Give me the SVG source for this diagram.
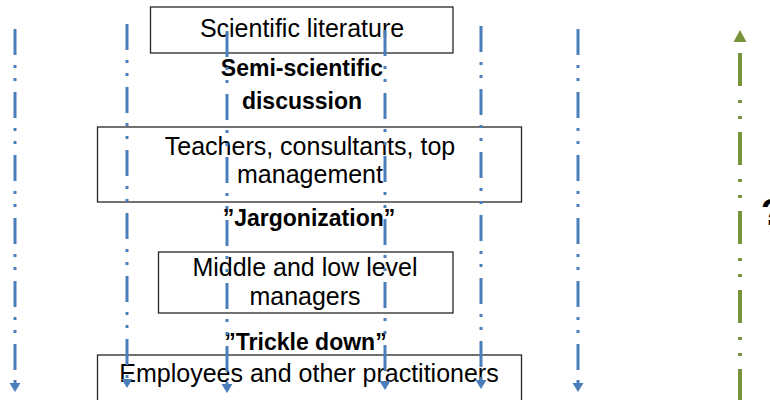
<svg xmlns="http://www.w3.org/2000/svg" width="770" height="400" viewBox="0 0 770 400">
  <style>
    .box { fill: #ffffff; stroke: #262626; stroke-width: 1.3; }
    .t { font-family: "Liberation Sans", Arial, sans-serif; font-size: 25px; fill: #000; text-anchor: middle; }
    .b { font-family: "Liberation Sans", Arial, sans-serif; font-size: 23px; font-weight: bold; fill: #000; text-anchor: middle; }
    .down { stroke: #4A7EBB; stroke-width: 3; fill: none; stroke-dasharray: 26 10 3 10 3 11; }
    .head-down { fill: #4A7EBB; }
    .up { stroke: #77933C; stroke-width: 4; fill: none; stroke-dasharray: 33 13 3 13 3 14; }
    .head-up { fill: #77933C; }
  </style>
  <defs>
    <!-- downward arrowhead, tip at the origin -->
    <path id="tipDown" class="head-down" d="M-5.5,-9 L5.5,-9 L0,0 Z"/>
  </defs>

  <!-- levels -->
  <g id="scientific-literature">
    <rect class="box" x="150.5" y="7" width="302.5" height="46"/>
    <text class="t" x="302" y="37">Scientific literature</text>
  </g>
  <g id="semi-scientific-discussion">
    <text class="b" x="302" y="76">Semi-scientific</text>
    <text class="b" x="302" y="109">discussion</text>
  </g>
  <g id="teachers-consultants">
    <rect class="box" x="97.5" y="127" width="424" height="75"/>
    <text class="t" x="310" y="155">Teachers, consultants, top</text>
    <text class="t" x="310" y="183">management</text>
  </g>
  <g id="jargonization">
    <text class="b" x="309" y="226">”Jargonization”</text>
  </g>
  <g id="middle-low-managers">
    <rect class="box" x="158.5" y="252" width="294.5" height="61"/>
    <text class="t" x="305" y="276">Middle and low level</text>
    <text class="t" x="305" y="305">managers</text>
  </g>
  <g id="trickle-down">
    <text class="b" x="305.5" y="350">”Trickle down”</text>
  </g>
  <g id="employees">
    <rect class="box" x="97.5" y="355" width="424" height="60"/>
    <text class="t" x="309" y="382">Employees and other practitioners</text>
  </g>
  <g id="question">
    <text class="b" x="761" y="225" style="font-size:36px;text-anchor:start">?</text>
  </g>

  <!-- flow lines -->
  <g id="connectors">
    <line class="down" x1="15" y1="29" x2="15" y2="384"/>
    <line class="down" x1="127" y1="24" x2="127" y2="380"/>
    <line class="down" x1="227" y1="31" x2="227" y2="385"/>
    <line class="down" x1="385" y1="30" x2="385" y2="382"/>
    <line class="down" x1="481" y1="26" x2="481" y2="381"/>
    <line class="down" x1="578" y1="29" x2="578" y2="384"/>
    <use href="#tipDown" x="15" y="392"/>
    <use href="#tipDown" x="127" y="388"/>
    <use href="#tipDown" x="227" y="393"/>
    <use href="#tipDown" x="385" y="390"/>
    <use href="#tipDown" x="481" y="389"/>
    <use href="#tipDown" x="578" y="392"/>
    <line class="up" x1="740" y1="402" x2="740" y2="47"/>
    <path class="head-up" d="M733.5,42 L746.5,42 L740,30 Z"/>
  </g>
</svg>
